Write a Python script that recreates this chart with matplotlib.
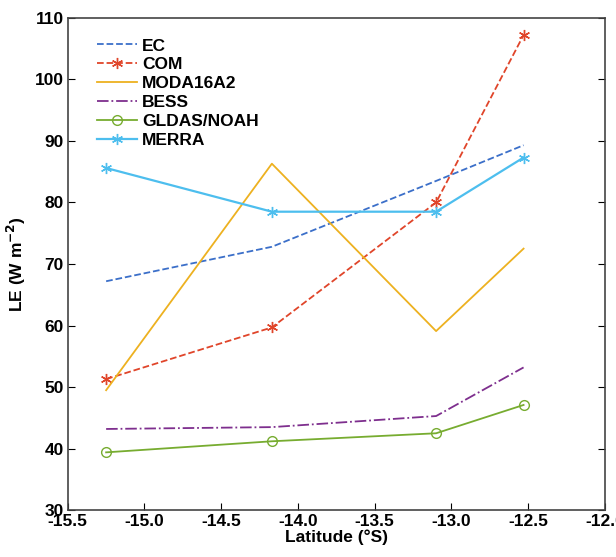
import matplotlib
matplotlib.use('Agg')
import matplotlib.pyplot as plt

plt.rcParams['font.family'] = ['Liberation Sans', 'DejaVu Sans']
plt.rcParams['font.weight'] = 'bold'
plt.rcParams['mathtext.default'] = 'bf'

lat = [-15.25, -14.17, -13.1, -12.53]
ec = [67.2, 72.8, 83.5, 89.3]
com = [51.3, 59.7, 80.0, 107.2]
moda = [49.5, 86.3, 59.1, 72.5]
bess = [43.2, 43.5, 45.3, 53.2]
gldas = [39.4, 41.2, 42.5, 47.1]
merra = [85.6, 78.5, 78.5, 87.3]

xticks = [-15.5, -15.0, -14.5, -14.0, -13.5, -13.0, -12.5, -12.0]
yticks = [30, 40, 50, 60, 70, 80, 90, 100, 110]

fig = plt.figure(figsize=(6.16, 5.57), dpi=100)
ax = fig.add_axes([0.110, 0.084, 0.872, 0.884])

ast = (6, 2, 0)
ax.plot(lat, ec, '--', color='#3b6fc9', lw=1.3, label='EC')
ax.plot(lat, com, '--', color='#e0452a', lw=1.3, marker=ast, ms=8, label='COM')
ax.plot(lat, moda, '-', color='#edb120', lw=1.3, label='MODA16A2')
ax.plot(lat, bess, '-.', color='#7e2f8e', lw=1.3, label='BESS')
ax.plot(lat, gldas, '-', color='#77ac30', lw=1.3, marker='o', ms=7, mfc='none', label='GLDAS/NOAH')
ax.plot(lat, merra, '-', color='#4dbeee', lw=1.6, marker=ast, ms=8, label='MERRA')

ax.set_xlim(-15.5, -12.0)
ax.set_ylim(30, 110)
ax.set_xticks(xticks)
ax.set_xticklabels(['%.1f' % v for v in xticks])
ax.set_yticks(yticks)
ax.tick_params(direction='in', top=False, right=True, labelsize=12.5, length=5, pad=3)
for lab in ax.get_xticklabels() + ax.get_yticklabels():
    lab.set_fontweight('bold')
for s in ax.spines.values():
    s.set_color('#444444')
    s.set_linewidth(1.2)

ax.set_xlabel('Latitude (°S)', fontsize=12.5, fontweight='bold', labelpad=0)
ax.set_ylabel('LE (W m$^{-2}$)', fontsize=12.5, fontweight='bold', labelpad=5)

leg = ax.legend(loc='upper left', frameon=False, fontsize=12.5, handlelength=2.3,
                bbox_to_anchor=(0.025, 0.99), labelspacing=0.22, handletextpad=0.3)
for t in leg.get_texts():
    t.set_fontweight('bold')

fig.savefig('out.png', dpi=100)
